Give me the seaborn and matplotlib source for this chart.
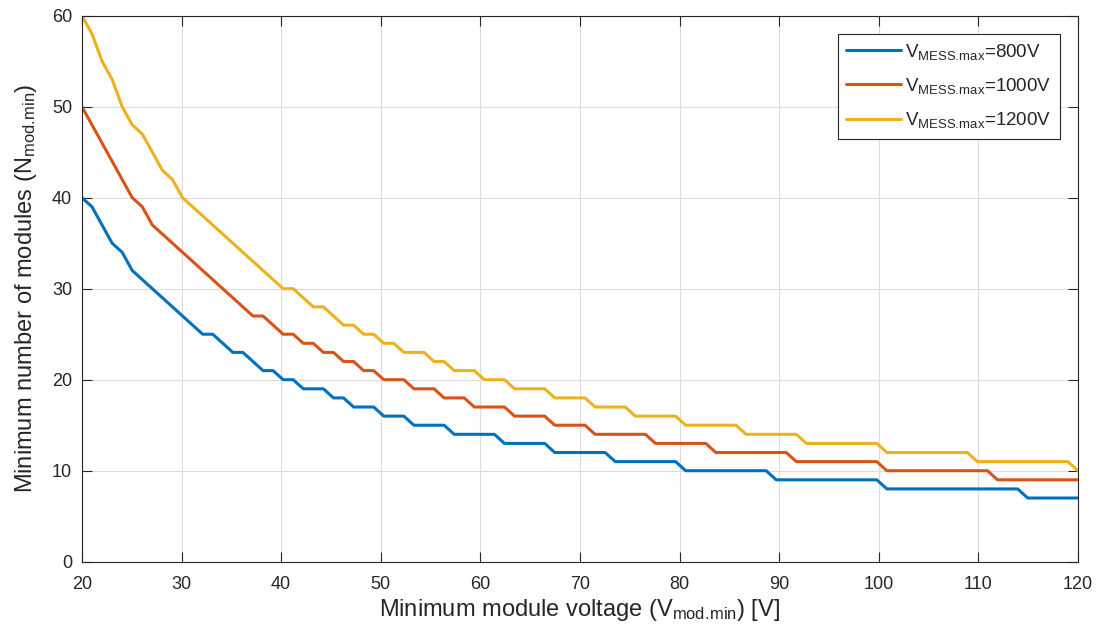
import matplotlib
matplotlib.use("Agg")
import matplotlib.pyplot as plt
import seaborn as sns
import pandas as pd

v_mod = [20.00, 21.01, 22.02, 23.03, 24.04, 25.05, 26.06, 27.07, 28.08, 29.09,
         30.10, 31.11, 32.12, 33.13, 34.14, 35.15, 36.16, 37.17, 38.18, 39.19,
         40.20, 41.21, 42.22, 43.23, 44.24, 45.25, 46.26, 47.27, 48.28, 49.29,
         50.30, 51.31, 52.32, 53.33, 54.34, 55.35, 56.36, 57.37, 58.38, 59.39,
         60.40, 61.41, 62.42, 63.43, 64.44, 65.45, 66.46, 67.47, 68.48, 69.49,
         70.51, 71.52, 72.53, 73.54, 74.55, 75.56, 76.57, 77.58, 78.59, 79.60,
         80.61, 81.62, 82.63, 83.64, 84.65, 85.66, 86.67, 87.68, 88.69, 89.70,
         90.71, 91.72, 92.73, 93.74, 94.75, 95.76, 96.77, 97.78, 98.79, 99.80,
         100.81, 101.82, 102.83, 103.84, 104.85, 105.86, 106.87, 107.88, 108.89, 109.90,
         110.91, 111.92, 112.93, 113.94, 114.95, 115.96, 116.97, 117.98, 118.99, 120.00]

n_800 = [40, 39, 37, 35, 34, 32, 31, 30, 29, 28,
         27, 26, 25, 25, 24, 23, 23, 22, 21, 21,
         20, 20, 19, 19, 19, 18, 18, 17, 17, 17,
         16, 16, 16, 15, 15, 15, 15, 14, 14, 14,
         14, 14, 13, 13, 13, 13, 13, 12, 12, 12,
         12, 12, 12, 11, 11, 11, 11, 11, 11, 11,
         10, 10, 10, 10, 10, 10, 10, 10, 10, 9,
         9, 9, 9, 9, 9, 9, 9, 9, 9, 9,
         8, 8, 8, 8, 8, 8, 8, 8, 8, 8,
         8, 8, 8, 8, 7, 7, 7, 7, 7, 7]

n_1000 = [50, 48, 46, 44, 42, 40, 39, 37, 36, 35,
          34, 33, 32, 31, 30, 29, 28, 27, 27, 26,
          25, 25, 24, 24, 23, 23, 22, 22, 21, 21,
          20, 20, 20, 19, 19, 19, 18, 18, 18, 17,
          17, 17, 17, 16, 16, 16, 16, 15, 15, 15,
          15, 14, 14, 14, 14, 14, 14, 13, 13, 13,
          13, 13, 13, 12, 12, 12, 12, 12, 12, 12,
          12, 11, 11, 11, 11, 11, 11, 11, 11, 11,
          10, 10, 10, 10, 10, 10, 10, 10, 10, 10,
          10, 9, 9, 9, 9, 9, 9, 9, 9, 9]

n_1200 = [60, 58, 55, 53, 50, 48, 47, 45, 43, 42,
          40, 39, 38, 37, 36, 35, 34, 33, 32, 31,
          30, 30, 29, 28, 28, 27, 26, 26, 25, 25,
          24, 24, 23, 23, 23, 22, 22, 21, 21, 21,
          20, 20, 20, 19, 19, 19, 19, 18, 18, 18,
          18, 17, 17, 17, 17, 16, 16, 16, 16, 16,
          15, 15, 15, 15, 15, 15, 14, 14, 14, 14,
          14, 14, 13, 13, 13, 13, 13, 13, 13, 13,
          12, 12, 12, 12, 12, 12, 12, 12, 12, 11,
          11, 11, 11, 11, 11, 11, 11, 11, 11, 10]

labels = [r"V$_{\mathregular{MESS.\!max}}$=800V",
          r"V$_{\mathregular{MESS.\!max}}$=1000V",
          r"V$_{\mathregular{MESS.\!max}}$=1200V"]
colors = ["#0072BD", "#D95319", "#EDB120"]
x_ticks = [20, 30, 40, 50, 60, 70, 80, 90, 100, 110, 120]
y_ticks = [0, 10, 20, 30, 40, 50, 60]

sns.set_theme(style="whitegrid")
plt.rcParams["font.family"] = ["Liberation Sans", "DejaVu Sans"]
plt.rcParams["mathtext.fontset"] = "custom"
plt.rcParams["mathtext.rm"] = "Liberation Sans"
plt.rcParams["mathtext.it"] = "Liberation Sans"

n = len(v_mod)
df = pd.DataFrame({
    "v": v_mod * 3,
    "n": n_800 + n_1000 + n_1200,
    "series": [labels[0]] * n + [labels[1]] * n + [labels[2]] * n,
})

fig = plt.figure(figsize=(11, 6.33), dpi=100)
ax = fig.add_axes([0.0745, 0.1126, 0.9055, 0.8626])
sns.lineplot(data=df, x="v", y="n", hue="series", palette=colors,
             linewidth=2.2, ax=ax)

ax.set_xlim(20, 120)
ax.set_ylim(0, 60)
ax.set_xticks(x_ticks)
ax.set_yticks(y_ticks)
ax.tick_params(labelsize=13, colors="#262626", direction="in", length=7,
               width=0.8, top=True, right=True, bottom=True, left=True)
ax.tick_params(axis="x", pad=10)
ax.tick_params(axis="y", pad=7)
ax.grid(True, color="#DCDCDC", linewidth=0.8)
for s in ax.spines.values():
    s.set_color("#262626")
    s.set_linewidth(0.8)
ax.set_facecolor("white")
ax.set_xlabel(r"Minimum module voltage (V$_{\mathregular{mod.\!min}}$) [V]",
              fontsize=17, color="#262626", labelpad=3)
ax.set_ylabel(r"Minimum number of modules (N$_{\mathregular{mod.\!min}}$)",
              fontsize=17, color="#262626", labelpad=9)

leg = ax.legend(loc="upper right", fontsize=13.5, frameon=True, fancybox=False,
                edgecolor="#262626", framealpha=1, handlelength=2.9,
                handletextpad=0.25, borderaxespad=0.95, labelspacing=0.75,
                borderpad=0.45)
leg.get_frame().set_linewidth(0.8)

fig.savefig("out.png", dpi=100)
